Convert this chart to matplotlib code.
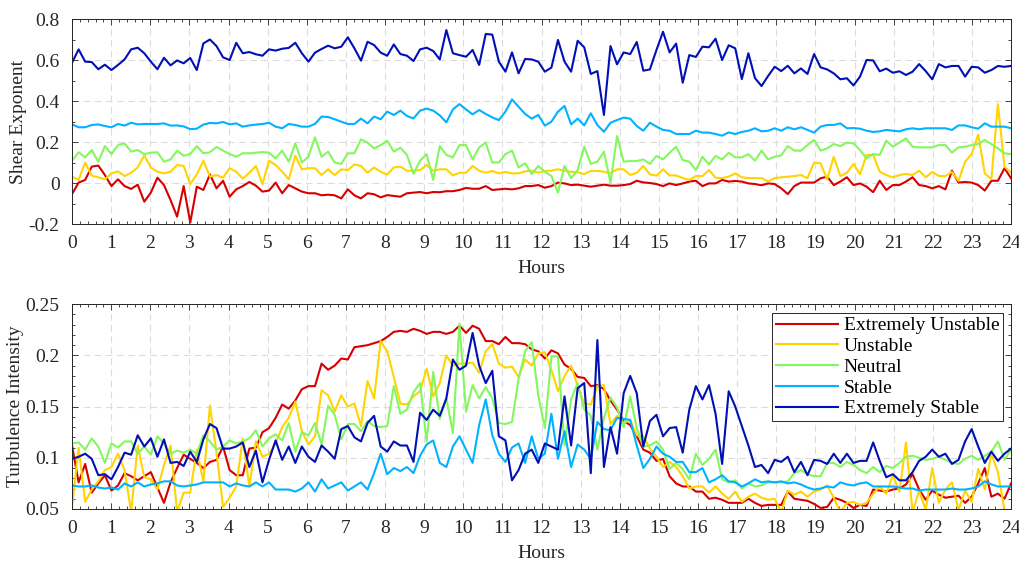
import numpy as np
import matplotlib
matplotlib.use('Agg')
import matplotlib.pyplot as plt
from matplotlib.ticker import MultipleLocator, FixedLocator, FixedFormatter

plt.rcParams['font.family'] = ['Liberation Serif', 'DejaVu Serif']

labels = ['Extremely Unstable', 'Unstable', 'Neutral', 'Stable', 'Extremely Stable']
colors = ['#D70000', '#FFD400', '#85F75E', '#00B2FF', '#0010B4']

hours = np.linspace(0, 24, 144)

# ---------------- Shear exponent ----------------
shear_eu = [
    -0.054, 0.002, 0.015, 0.08, 0.085, 0.039, -0.015, 0.018, -0.015, -0.029, -0.008, -0.091, -0.047, 0.026, -0.01, -0.083, -0.164, -0.015, -0.193, -0.018, -0.034, 0.042, -0.026, 0.011, -0.067, -0.031, -0.015, 0.005, -0.013, -0.042, -0.037, 0.002, -0.05, -0.01, -0.026, -0.042,
    -0.05, -0.05, -0.06, -0.057, -0.06, -0.075, -0.031, -0.06, -0.075, -0.05, -0.055, -0.07, -0.059, -0.063, -0.067, -0.05, -0.047, -0.044, -0.05, -0.044, -0.045, -0.04, -0.04, -0.034, -0.024, -0.028, -0.028, -0.015, -0.034, -0.031, -0.028, -0.031, -0.026, -0.015, -0.015, -0.01,
    -0.023, -0.015, 0.002, -0.002, -0.01, -0.008, -0.013, -0.018, -0.013, -0.008, -0.013, -0.013, -0.01, -0.005, 0.011, 0.003, 0.0, -0.005, -0.015, -0.002, -0.01, -0.002, 0.007, 0.011, -0.015, -0.002, -0.002, 0.015, 0.007, 0.01, 0.007, -0.002, -0.005, -0.011, -0.002, -0.005,
    -0.026, -0.054, -0.015, 0.002, 0.002, 0.002, 0.023, 0.031, -0.01, 0.007, 0.028, -0.01, -0.002, -0.018, -0.045, 0.011, -0.034, -0.01, -0.01, 0.007, 0.028, -0.01, -0.015, -0.026, -0.015, -0.031, 0.06, 0.002, 0.005, 0.002, -0.01, -0.037, 0.011, 0.011, 0.072, 0.023,
]
shear_u = [
    0.031, 0.015, 0.10, 0.036, 0.028, 0.018, 0.047, 0.057, 0.034, 0.05, 0.076, 0.135, 0.076, 0.055, 0.047, 0.055, 0.088, 0.083, -0.005, 0.042, 0.109, 0.031, 0.039, 0.026, 0.072, 0.055, 0.021, 0.05, 0.083, -0.005, 0.109, 0.088, 0.055, 0.018, 0.133, 0.067,
    0.072, 0.072, 0.039, 0.067, 0.039, 0.067, 0.063, 0.091, 0.083, 0.05, 0.076, 0.055, 0.041, 0.076, 0.08, 0.06, 0.06, 0.063, 0.088, 0.06, 0.067, 0.067, 0.037, 0.05, 0.05, 0.083, 0.06, 0.05, 0.059, 0.047, 0.054, 0.047, 0.047, 0.057, 0.06, 0.05,
    0.059, 0.06, 0.067, 0.06, 0.055, 0.052, 0.044, 0.059, 0.059, 0.055, 0.047, 0.067, 0.067, 0.039, 0.05, 0.083, 0.042, 0.036, 0.067, 0.037, 0.037, 0.024, 0.015, 0.034, 0.034, 0.063, 0.026, 0.024, 0.031, 0.047, 0.028, 0.024, 0.024, 0.024, 0.008, 0.024,
    0.028, 0.031, 0.034, 0.039, 0.024, 0.10, 0.096, 0.018, 0.128, 0.034, 0.05, 0.093, 0.042, 0.137, 0.137, 0.055, 0.039, 0.028, 0.039, 0.044, 0.039, 0.06, 0.028, 0.054, 0.034, 0.034, 0.054, 0.011, 0.104, 0.141, 0.236, 0.047, 0.018, 0.385, 0.08, 0.05,
]
shear_n = [
    0.109, 0.15, 0.125, 0.161, 0.104, 0.18, 0.141, 0.185, 0.193, 0.153, 0.161, 0.141, 0.148, 0.15, 0.104, 0.115, 0.158, 0.133, 0.141, 0.18, 0.145, 0.15, 0.176, 0.158, 0.141, 0.128, 0.145, 0.145, 0.148, 0.151, 0.148, 0.12, 0.158, 0.104, 0.193, 0.10,
    0.128, 0.223, 0.128, 0.153, 0.10, 0.093, 0.145, 0.145, 0.213, 0.197, 0.169, 0.185, 0.206, 0.153, 0.172, 0.137, 0.044, 0.109, 0.141, 0.015, 0.18, 0.137, 0.125, 0.185, 0.185, 0.115, 0.174, 0.197, 0.10, 0.10, 0.141, 0.158, 0.076, 0.096, 0.044, 0.083,
    0.055, 0.034, -0.047, 0.083, 0.024, 0.063, 0.177, 0.093, 0.104, 0.153, 0.002, 0.229, 0.104, 0.107, 0.107, 0.115, 0.093, 0.132, 0.115, 0.148, 0.177, 0.112, 0.104, 0.063, 0.128, 0.091, 0.132, 0.115, 0.148, 0.125, 0.125, 0.141, 0.109, 0.158, 0.115, 0.128,
    0.135, 0.18, 0.158, 0.158, 0.185, 0.21, 0.158, 0.169, 0.19, 0.18, 0.197, 0.193, 0.161, 0.12, 0.141, 0.137, 0.206, 0.177, 0.197, 0.218, 0.177, 0.174, 0.174, 0.174, 0.185, 0.185, 0.148, 0.174, 0.177, 0.185, 0.19, 0.21, 0.19, 0.169, 0.145, 0.141,
]
shear_s = [
    0.286, 0.272, 0.272, 0.283, 0.286, 0.278, 0.272, 0.288, 0.280, 0.294, 0.286, 0.288, 0.288, 0.288, 0.291, 0.280, 0.281, 0.276, 0.263, 0.265, 0.285, 0.293, 0.291, 0.298, 0.286, 0.291, 0.275, 0.281, 0.285, 0.288, 0.294, 0.275, 0.267, 0.288, 0.283, 0.275,
    0.275, 0.288, 0.324, 0.322, 0.311, 0.299, 0.288, 0.288, 0.314, 0.291, 0.324, 0.311, 0.348, 0.332, 0.353, 0.327, 0.315, 0.353, 0.363, 0.353, 0.33, 0.296, 0.359, 0.385, 0.359, 0.335, 0.356, 0.337, 0.32, 0.307, 0.348, 0.408, 0.372, 0.337, 0.314, 0.332,
    0.28, 0.299, 0.348, 0.376, 0.286, 0.314, 0.281, 0.34, 0.283, 0.25, 0.294, 0.307, 0.319, 0.314, 0.278, 0.255, 0.294, 0.275, 0.259, 0.255, 0.239, 0.239, 0.239, 0.255, 0.246, 0.246, 0.239, 0.231, 0.247, 0.239, 0.249, 0.255, 0.267, 0.252, 0.255, 0.267,
    0.255, 0.272, 0.262, 0.272, 0.259, 0.246, 0.275, 0.283, 0.283, 0.291, 0.267, 0.268, 0.265, 0.255, 0.249, 0.252, 0.259, 0.255, 0.252, 0.262, 0.267, 0.262, 0.267, 0.267, 0.267, 0.267, 0.259, 0.281, 0.281, 0.272, 0.265, 0.291, 0.275, 0.275, 0.275, 0.267,
]
shear_es = [
    0.587, 0.652, 0.592, 0.59, 0.555, 0.577, 0.551, 0.576, 0.603, 0.652, 0.66, 0.633, 0.592, 0.555, 0.611, 0.574, 0.598, 0.584, 0.61, 0.551, 0.681, 0.70, 0.668, 0.613, 0.60, 0.684, 0.633, 0.639, 0.628, 0.621, 0.652, 0.646, 0.655, 0.659, 0.684, 0.633,
    0.592, 0.636, 0.654, 0.67, 0.657, 0.665, 0.711, 0.657, 0.597, 0.689, 0.673, 0.636, 0.621, 0.676, 0.629, 0.621, 0.595, 0.652, 0.66, 0.644, 0.603, 0.746, 0.633, 0.624, 0.616, 0.649, 0.576, 0.727, 0.724, 0.592, 0.543, 0.637, 0.535, 0.605, 0.603, 0.592,
    0.543, 0.563, 0.698, 0.592, 0.543, 0.694, 0.662, 0.532, 0.546, 0.332, 0.668, 0.579, 0.637, 0.629, 0.688, 0.548, 0.554, 0.649, 0.738, 0.637, 0.68, 0.489, 0.624, 0.615, 0.665, 0.662, 0.704, 0.60, 0.672, 0.657, 0.507, 0.633, 0.512, 0.473, 0.522, 0.567,
    0.546, 0.572, 0.535, 0.559, 0.532, 0.629, 0.564, 0.554, 0.535, 0.506, 0.511, 0.476, 0.519, 0.60, 0.598, 0.545, 0.558, 0.538, 0.545, 0.527, 0.543, 0.58, 0.546, 0.506, 0.58, 0.564, 0.571, 0.571, 0.519, 0.567, 0.564, 0.538, 0.551, 0.571, 0.567, 0.571,
]

# ---------------- Turbulence intensity ----------------
ti_eu = [
    0.112, 0.076, 0.094, 0.066, 0.075, 0.083, 0.068, 0.073, 0.085, 0.082, 0.078, 0.082, 0.086, 0.071, 0.056, 0.076, 0.09, 0.103, 0.099, 0.095, 0.09, 0.096, 0.098, 0.111, 0.088, 0.083, 0.083, 0.109, 0.11, 0.125, 0.129, 0.139, 0.152, 0.148, 0.156, 0.167,
    0.17, 0.17, 0.192, 0.186, 0.19, 0.197, 0.196, 0.208, 0.209, 0.21, 0.212, 0.214, 0.218, 0.223, 0.224, 0.223, 0.226, 0.224, 0.221, 0.223, 0.223, 0.221, 0.223, 0.229, 0.222, 0.229, 0.226, 0.214, 0.214, 0.211, 0.218, 0.212, 0.212, 0.211, 0.206, 0.204,
    0.197, 0.205, 0.202, 0.191, 0.187, 0.179, 0.178, 0.17, 0.171, 0.167, 0.156, 0.147, 0.136, 0.132, 0.121, 0.108, 0.105, 0.097, 0.099, 0.082, 0.075, 0.072, 0.072, 0.067, 0.067, 0.06, 0.061, 0.059, 0.056, 0.056, 0.056, 0.06, 0.056, 0.053, 0.054, 0.054,
    0.054, 0.067, 0.06, 0.059, 0.058, 0.055, 0.051, 0.052, 0.061, 0.059, 0.056, 0.051, 0.054, 0.053, 0.069, 0.068, 0.067, 0.069, 0.07, 0.074, 0.084, 0.069, 0.059, 0.068, 0.064, 0.061, 0.062, 0.063, 0.056, 0.062, 0.075, 0.09, 0.062, 0.065, 0.06, 0.075,
]
ti_u = [
    0.052, 0.11, 0.057, 0.069, 0.077, 0.088, 0.091, 0.104, 0.088, 0.047, 0.112, 0.081, 0.079, 0.069, 0.093, 0.112, 0.047, 0.066, 0.066, 0.108, 0.077, 0.151, 0.105, 0.052, 0.061, 0.072, 0.119, 0.072, 0.116, 0.101, 0.104, 0.114, 0.13, 0.139, 0.155, 0.126,
    0.113, 0.121, 0.166, 0.161, 0.145, 0.161, 0.15, 0.153, 0.131, 0.175, 0.158, 0.214, 0.204, 0.179, 0.153, 0.152, 0.16, 0.165, 0.187, 0.16, 0.173, 0.20, 0.19, 0.192, 0.192, 0.193, 0.183, 0.204, 0.211, 0.192, 0.188, 0.189, 0.179, 0.196, 0.19, 0.202,
    0.203, 0.186, 0.165, 0.18, 0.19, 0.17, 0.153, 0.152, 0.17, 0.171, 0.133, 0.141, 0.134, 0.137, 0.122, 0.121, 0.109, 0.101, 0.091, 0.096, 0.091, 0.082, 0.07, 0.072, 0.072, 0.066, 0.072, 0.065, 0.06, 0.067, 0.057, 0.062, 0.065, 0.061, 0.059, 0.06,
    0.047, 0.068, 0.064, 0.067, 0.062, 0.067, 0.069, 0.073, 0.061, 0.047, 0.056, 0.057, 0.054, 0.056, 0.065, 0.072, 0.065, 0.083, 0.067, 0.115, 0.047, 0.068, 0.049, 0.09, 0.056, 0.069, 0.076, 0.049, 0.068, 0.057, 0.089, 0.069, 0.104, 0.086, 0.049, 0.049,
]
ti_n = [
    0.114, 0.115, 0.108, 0.119, 0.111, 0.095, 0.114, 0.11, 0.116, 0.116, 0.104, 0.111, 0.103, 0.121, 0.114, 0.104, 0.107, 0.105, 0.108, 0.104, 0.122, 0.116, 0.108, 0.111, 0.117, 0.114, 0.116, 0.119, 0.127, 0.111, 0.119, 0.123, 0.117, 0.134, 0.106, 0.125,
    0.122, 0.134, 0.113, 0.151, 0.142, 0.118, 0.133, 0.133, 0.126, 0.136, 0.131, 0.13, 0.131, 0.17, 0.143, 0.147, 0.164, 0.173, 0.116, 0.184, 0.138, 0.158, 0.124, 0.231, 0.145, 0.171, 0.158, 0.169, 0.158, 0.134, 0.133, 0.135, 0.177, 0.204, 0.213, 0.161,
    0.129, 0.199, 0.199, 0.112, 0.157, 0.173, 0.147, 0.141, 0.108, 0.139, 0.159, 0.149, 0.13, 0.16, 0.129, 0.111, 0.112, 0.116, 0.108, 0.089, 0.095, 0.089, 0.079, 0.104, 0.093, 0.099, 0.108, 0.079, 0.076, 0.078, 0.07, 0.075, 0.072, 0.073, 0.076, 0.076,
    0.076, 0.077, 0.085, 0.088, 0.084, 0.082, 0.082, 0.095, 0.095, 0.091, 0.096, 0.093, 0.088, 0.085, 0.091, 0.086, 0.092, 0.09, 0.095, 0.101, 0.102, 0.10, 0.098, 0.099, 0.101, 0.098, 0.095, 0.094, 0.099, 0.102, 0.098, 0.102, 0.106, 0.116, 0.098, 0.108,
]
ti_s = [
    0.073, 0.072, 0.072, 0.073, 0.071, 0.07, 0.071, 0.069, 0.075, 0.072, 0.076, 0.072, 0.074, 0.075, 0.077, 0.077, 0.073, 0.072, 0.073, 0.074, 0.076, 0.076, 0.076, 0.076, 0.072, 0.075, 0.073, 0.072, 0.076, 0.072, 0.076, 0.069, 0.069, 0.069, 0.067, 0.07,
    0.076, 0.067, 0.079, 0.07, 0.073, 0.076, 0.068, 0.072, 0.076, 0.069, 0.085, 0.104, 0.084, 0.09, 0.087, 0.091, 0.085, 0.102, 0.113, 0.117, 0.095, 0.091, 0.111, 0.121, 0.108, 0.095, 0.132, 0.157, 0.122, 0.104, 0.096, 0.11, 0.114, 0.095, 0.121, 0.099,
    0.104, 0.143, 0.099, 0.126, 0.091, 0.113, 0.108, 0.099, 0.135, 0.128, 0.127, 0.139, 0.138, 0.137, 0.112, 0.09, 0.099, 0.111, 0.104, 0.101, 0.096, 0.096, 0.086, 0.086, 0.09, 0.076, 0.079, 0.083, 0.077, 0.076, 0.072, 0.075, 0.079, 0.076, 0.077, 0.076,
    0.077, 0.075, 0.076, 0.074, 0.071, 0.069, 0.07, 0.072, 0.071, 0.076, 0.074, 0.073, 0.075, 0.076, 0.072, 0.072, 0.072, 0.072, 0.071, 0.07, 0.07, 0.068, 0.069, 0.069, 0.069, 0.069, 0.07, 0.069, 0.069, 0.07, 0.072, 0.077, 0.074, 0.072, 0.072, 0.072,
]
ti_es = [
    0.099, 0.101, 0.104, 0.099, 0.083, 0.084, 0.079, 0.091, 0.105, 0.103, 0.122, 0.111, 0.119, 0.101, 0.118, 0.095, 0.096, 0.092, 0.106, 0.096, 0.118, 0.133, 0.129, 0.109, 0.109, 0.111, 0.115, 0.091, 0.107, 0.076, 0.098, 0.117, 0.098, 0.111, 0.095, 0.111,
    0.101, 0.096, 0.112, 0.106, 0.099, 0.128, 0.131, 0.12, 0.116, 0.134, 0.141, 0.111, 0.106, 0.116, 0.112, 0.112, 0.096, 0.144, 0.137, 0.147, 0.141, 0.158, 0.196, 0.186, 0.19, 0.222, 0.19, 0.173, 0.185, 0.121, 0.117, 0.078, 0.088, 0.104, 0.108, 0.095,
    0.114, 0.111, 0.108, 0.16, 0.112, 0.168, 0.173, 0.085, 0.215, 0.091, 0.13, 0.104, 0.163, 0.18, 0.163, 0.111, 0.136, 0.142, 0.121, 0.129, 0.13, 0.105, 0.147, 0.17, 0.157, 0.171, 0.143, 0.094, 0.165, 0.15, 0.131, 0.112, 0.091, 0.093, 0.085, 0.098,
    0.096, 0.101, 0.086, 0.096, 0.083, 0.098, 0.097, 0.094, 0.104, 0.095, 0.104, 0.095, 0.097, 0.097, 0.115, 0.097, 0.081, 0.084, 0.078, 0.078, 0.086, 0.097, 0.101, 0.108, 0.101, 0.104, 0.094, 0.098, 0.116, 0.128, 0.111, 0.095, 0.106, 0.097, 0.104, 0.109,
]

xticks = list(range(0, 25))
shear_yticks = [-0.2, 0, 0.2, 0.4, 0.6, 0.8]
shear_yticklabels = ['-0.2', '0', '0.2', '0.4', '0.6', '0.8']
ti_yticks = [0.05, 0.1, 0.15, 0.2, 0.25]
ti_yticklabels = ['0.05', '0.1', '0.15', '0.2', '0.25']

FS = 14
fig = plt.figure(figsize=(10.19, 5.61), dpi=100)
ax1 = fig.add_axes([0.0707, 0.6007, 0.9215, 0.3654])
ax2 = fig.add_axes([0.0707, 0.0927, 0.9215, 0.3650])


def style(ax, yticks, yticklabels, yminor, ylim):
    ax.set_xlim(0, 24)
    ax.set_ylim(*ylim)
    ax.xaxis.set_major_locator(FixedLocator(xticks))
    ax.set_xticklabels([str(t) for t in xticks])
    ax.xaxis.set_minor_locator(MultipleLocator(0.2))
    ax.yaxis.set_major_locator(FixedLocator(yticks))
    ax.yaxis.set_major_formatter(FixedFormatter(yticklabels))
    ax.yaxis.set_minor_locator(MultipleLocator(yminor))
    ax.tick_params(which='both', direction='in', top=True, right=True,
                   colors='#262626', labelsize=FS, labelcolor='#262626')
    ax.tick_params(which='major', length=4.5, width=0.6)
    ax.tick_params(axis='x', which='major', pad=8)
    ax.tick_params(axis='y', which='major', pad=9)
    ax.tick_params(which='minor', length=2.5, width=0.6)
    ax.grid(True, which='major', color='#dcdcdc', linestyle=(0, (6, 4)), linewidth=0.8)
    ax.set_axisbelow(True)
    for s in ax.spines.values():
        s.set_color('#262626')
        s.set_linewidth(0.7)
    ax.set_xlabel('Hours', fontsize=FS, color='#262626', labelpad=6)


shear_series = [shear_eu, shear_u, shear_n, shear_s, shear_es]
ti_series = [ti_eu, ti_u, ti_n, ti_s, ti_es]

for vals, c, lab in zip(shear_series, colors, labels):
    ax1.plot(hours, vals, color=c, lw=1.5, label=lab)
for vals, c, lab in zip(ti_series, colors, labels):
    ax2.plot(hours, vals, color=c, lw=1.5, label=lab)

style(ax1, shear_yticks, shear_yticklabels, 0.1, (-0.2, 0.8))
style(ax2, ti_yticks, ti_yticklabels, 0.01, (0.05, 0.25))
ax1.set_ylabel('Shear Exponent', fontsize=FS, color='#262626', labelpad=1)
ax2.set_ylabel('Turbulence Intensity', fontsize=FS, color='#262626', labelpad=1)

leg = ax2.legend(loc='upper right', bbox_to_anchor=(0.9915, 0.9575), borderaxespad=0,
                 fontsize=FS, handlelength=3.2, labelspacing=0.16, handletextpad=0.3,
                 borderpad=0.2, fancybox=False, framealpha=1, edgecolor='#262626')
leg.get_frame().set_linewidth(0.7)

fig.savefig('out.png', dpi=100)
